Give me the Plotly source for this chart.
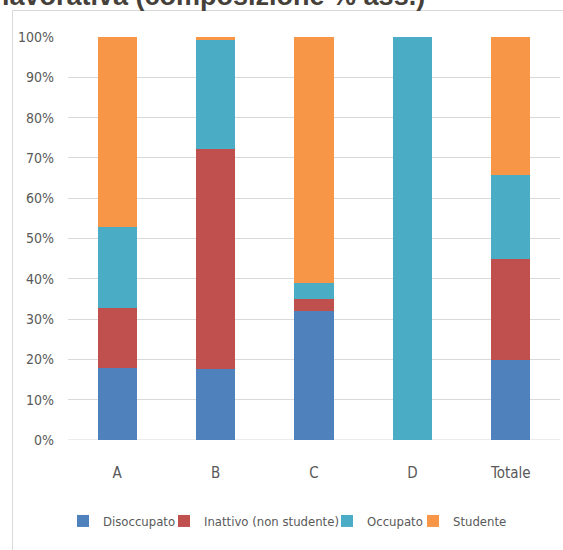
import plotly.graph_objects as go

categories = ["A", "B", "C", "D", "Totale"]
disoccupato = [17.9, 17.6, 31.9, 0.0, 19.9]
inattivo = [14.9, 54.5, 3.1, 0.0, 25.0]
occupato = [20.0, 27.1, 3.9, 100.0, 20.9]
studente = [47.2, 0.8, 61.1, 0.0, 34.2]

series_names = ["Disoccupato", "Inattivo (non studente)", "Occupato", "Studente"]
series_values = [disoccupato, inattivo, occupato, studente]
series_colors = ["#4F81BD", "#C0504D", "#4BACC6", "#F79646"]
legend_widths = [56, 118, 41, None]

tick_vals = list(range(0, 101, 10))
tick_text = [f"{v}%" for v in tick_vals]

FONT = "DejaVu Sans Condensed, Liberation Sans, sans-serif"

fig = go.Figure()
for name, vals, col, lw in zip(series_names, series_values, series_colors, legend_widths):
    kw = {}
    if lw:
        kw["legendwidth"] = lw
    fig.add_trace(go.Bar(
        x=categories, y=vals, name=name,
        marker=dict(color=col, line=dict(width=0)),
        **kw,
    ))

W, H = 563, 550
ml, mr, mt, mb = 68, 3, 37, 110
pw, ph = W - ml - mr, H - mt - mb

def px_x(x):
    return (x - ml) / pw

def px_y(y):
    return (H - mb - y) / ph

fig.update_layout(
    width=W, height=H,
    margin=dict(l=ml, r=mr, t=mt, b=mb, autoexpand=False),
    barmode="stack",
    bargap=0.6,
    paper_bgcolor="white",
    plot_bgcolor="white",
    font=dict(family=FONT, size=14, color="#595959"),
    showlegend=True,
    legend=dict(
        orientation="h",
        x=px_x(63), xanchor="left",
        y=px_y(521), yanchor="middle",
        font=dict(family=FONT, size=13, color="#595959"),
        traceorder="normal",
        itemclick=False,
        itemwidth=30,
        tracegroupgap=0,
        borderwidth=0,
    ),
    xaxis=dict(
        showgrid=False, showline=False, zeroline=False, ticks="",
        tickfont=dict(family=FONT, size=15, color="#595959"),
        ticklabelstandoff=22,
    ),
    yaxis=dict(
        range=[0, 100],
        tickvals=tick_vals, ticktext=tick_text,
        showgrid=True, gridcolor="#D9D9D9", gridwidth=1,
        zeroline=False, showline=False, ticks="",
        tickfont=dict(family=FONT, size=14, color="#595959"),
        ticklabelstandoff=13,
    ),
    shapes=[
        dict(type="rect", xref="paper", yref="paper",
             x0=px_x(12.5), x1=px_x(620), y0=px_y(10.5), y1=px_y(700),
             line=dict(color="#D9D9D9", width=1), fillcolor="rgba(0,0,0,0)",
             layer="below"),
        dict(type="line", xref="paper", yref="y",
             x0=0, x1=1, y0=0, y1=0,
             line=dict(color="#D9D9D9", width=1), layer="below"),
    ],
    annotations=[
        dict(text="<b>lavorativa (composizione % ass.)</b>",
             xref="paper", yref="paper",
             x=px_x(0), xanchor="left",
             y=px_y(13.5), yanchor="bottom",
             showarrow=False,
             font=dict(family="Liberation Sans, Arial, sans-serif", size=27, color="#45413A")),
    ],
)

fig.write_html("out.html")
